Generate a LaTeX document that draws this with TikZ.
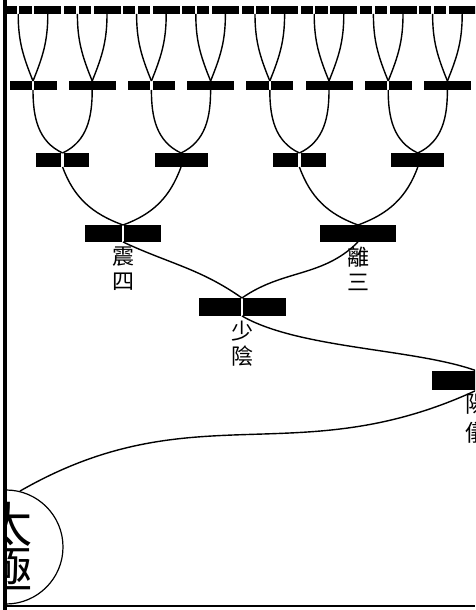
\documentclass[tikz,border=0pt]{standalone}
\usepackage{fontspec}
\newfontfamily\cjk{Noto Sans CJK TC}
\usetikzlibrary{positioning}

\tikzset{
    yang/.style={rectangle, fill=black, inner sep=0pt, outer sep=0pt},
    yin/.style={yang, path picture={\fill[white] ([xshift=-1.2pt]path picture bounding box.south) rectangle ([xshift=1.2pt]path picture bounding box.north);}},
    yao/.code={\ifodd#1\relax\tikzset{yang}\else\tikzset{yin}\fi},
    liangyi/.style={minimum width=90pt, minimum height=19pt},
    sixiang/.style={minimum width=87pt, minimum height=18pt},
    bagua/.style={minimum width=76pt, minimum height=17pt},
    sixteen/.style={minimum width=53pt, minimum height=14pt},
    thirtytwo/.style={minimum width=47pt, minimum height=9pt},
    sixtyfour/.style={minimum width=27pt, minimum height=8pt},
    branch/.style={line width=1.4pt},
    guaname/.style={font=\cjk\fontsize{22}{25}\selectfont, align=center, inner sep=0pt}
}

\begin{document}
\begin{tikzpicture}[x=1pt, y=1pt]
    \useasboundingbox (0,0) rectangle (475,610);
    \clip (0,0) rectangle (475,610);
    \fill[white] (0,0) rectangle (475,610);

    % Taiji, cut by the frame
    \begin{scope}
        \clip (5,0) rectangle (475,610);
        \node[draw, circle, line width=1.2pt, minimum size=114pt, inner sep=0pt] (taiji) at (6,63) {};
        \node[font=\cjk\fontsize{48}{45}\selectfont, align=center, inner sep=0pt] (taijiname) at (9,63) {太\\極};
    \end{scope}

    % Frame
    \draw[line width=4pt] (5,0) -- (5,610);
    \draw[line width=2pt] (5,4) -- (475,4);

    % Liangyi and sixiang
    \node[yang, liangyi] (yangyi) at (477,229.5) {};
    \node[guaname, font=\cjk\fontsize{23}{29}\selectfont, below=4pt of yangyi] (yangyiname) {陽\\儀};
    \node[yin, sixiang] (shaoyin) at (242,303) {};
    \node[guaname, below=5pt of shaoyin] (shaoyinname) {少\\陰};

    % Bagua
    \node[yin, bagua] (zhen) at (123,376.5) {};
    \node[guaname, below=5pt of zhen] (zhenname) {震\\四};
    \node[yang, bagua] (li) at (358,376.5) {};
    \node[guaname, below=5pt of li] (liname) {離\\三};

    % Upper rows
    \foreach \i in {0,...,3}
        \node[yao=\i, sixteen] (h\i) at ({62.6+118.4*\i},450) {};
    \foreach \j in {0,...,7}
        \node[yao=\j, thirtytwo] (k\j) at ({33+59.2*\j},524.5) {};
    \foreach \k in {0,...,15}
        \node[yao=\k, sixtyfour] (m\k) at ({18.2+29.6*\k},600) {};

    % Branches
    \draw[branch] (yangyi.south) .. controls +(-181,-84) and +(174,100) .. (taiji.76);
    \draw[branch] (shaoyin.south) to[out=-30, in=160, looseness=0.7] (yangyi.north);
    \draw[branch] (shaoyin.north) to[out=145, in=-25] (zhen.south);
    \draw[branch] (shaoyin.north) to[out=35, in=-135] (li.south);

    \draw[branch] (zhen.north) to[out=160, in=-70] (h0.south);
    \draw[branch] (zhen.north) to[out=20, in=-110] (h1.south);
    \draw[branch] (li.north) to[out=160, in=-70] (h2.south);
    \draw[branch] (li.north) to[out=20, in=-110] (h3.south);

    \foreach \j in {0,...,7} {
        \pgfmathtruncatemacro\p{\j/2}
        \ifodd\j \def\ang{25}\else \def\ang{155}\fi
        \draw[branch] (h\p.north) to[out=\ang, in=-90] (k\j.south);
    }
    \foreach \k in {0,...,15} {
        \pgfmathtruncatemacro\p{\k/2}
        \ifodd\k \def\ang{68}\else \def\ang{112}\fi
        \draw[branch] (k\p.north) to[out=\ang, in=-90] (m\k.south);
    }
\end{tikzpicture}
\end{document}
